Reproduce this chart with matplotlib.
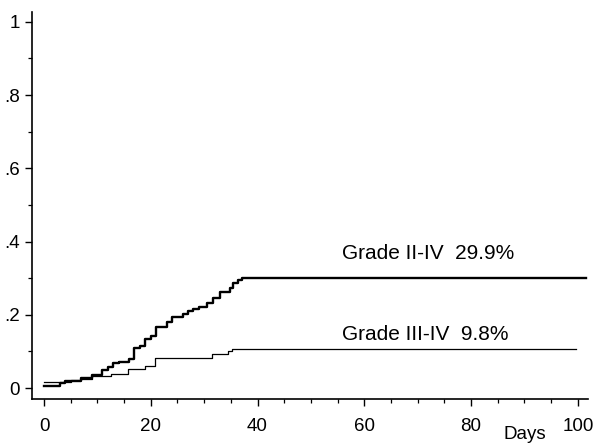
import matplotlib
matplotlib.use("Agg")
import matplotlib.pyplot as plt
import numpy as np

plt.rcParams['font.family'] = ['Liberation Sans', 'DejaVu Sans']

# Grade II-IV cumulative incidence (step curve)
days_2_4 = [0, 3, 4, 7, 9, 10.8, 12, 13, 14, 16, 16.8, 18, 19, 20, 21, 23, 24,
            26, 27, 28, 29, 30.5, 31.6, 32.9, 34.8, 35.4, 36.3, 37, 101.5]
vals_2_4 = [0.005, 0.014, 0.02, 0.027, 0.036, 0.049, 0.057, 0.068, 0.071, 0.079,
            0.109, 0.115, 0.134, 0.142, 0.167, 0.18, 0.194, 0.202, 0.21, 0.216,
            0.222, 0.232, 0.246, 0.263, 0.272, 0.286, 0.295, 0.301, 0.301]

# Grade III-IV cumulative incidence
days_3_4 = [0, 5, 7, 9, 12.5, 15.7, 18.9, 20.7, 31.4, 34.4, 35.3, 99.6]
vals_3_4 = [0.016, 0.021, 0.025, 0.033, 0.038, 0.052, 0.06, 0.082, 0.093, 0.1,
            0.106, 0.106]

x_ticks = [0, 20, 40, 60, 80, 100]
x_ticklabels = ['0', '20', '40', '60', '80', '100']
y_ticks = [0, 0.2, 0.4, 0.6, 0.8, 1.0]
y_ticklabels = ['0', '.2', '.4', '.6', '.8', '1']

label_2_4 = 'Grade II-IV  29.9%'
label_3_4 = 'Grade III-IV  9.8%'

fig = plt.figure(figsize=(5.96, 4.45), dpi=100)
ax = fig.add_axes([32/596, 1 - 399/445, 556/596, 387/445])

ax.step(days_2_4, vals_2_4, where='post', color='black', lw=1.7)
ax.step(days_3_4, vals_3_4, where='post', color='black', lw=0.9)

ax.set_xlim(-2.25, 101.9)
ax.set_ylim(-0.030, 1.027)

ax.spines['top'].set_visible(False)
ax.spines['right'].set_visible(False)
ax.spines['left'].set_linewidth(1.2)
ax.spines['bottom'].set_linewidth(1.2)

ax.set_xticks(x_ticks)
ax.set_xticklabels(x_ticklabels)
ax.set_xticks(np.arange(0, 101, 5), minor=True)
ax.set_yticks(y_ticks)
ax.set_yticklabels(y_ticklabels)
ax.set_yticks(np.arange(0, 1.01, 0.1), minor=True)

ax.tick_params(axis='both', which='major', direction='out', length=5, width=1.0,
               labelsize=13.5, color='black')
ax.tick_params(axis='both', which='minor', direction='out', length=3, width=0.9,
               color='black')
ax.tick_params(axis='x', which='major', pad=8.5)
ax.tick_params(axis='y', which='major', pad=3.5)

ax.text(55.8, 0.352, label_2_4, fontsize=15, va='baseline', ha='left')
ax.text(55.8, 0.131, label_3_4, fontsize=15, va='baseline', ha='left')

ax.text(90.1, -0.139, 'Days', fontsize=13.5, va='baseline', ha='center')

fig.savefig('out.png', dpi=100)
